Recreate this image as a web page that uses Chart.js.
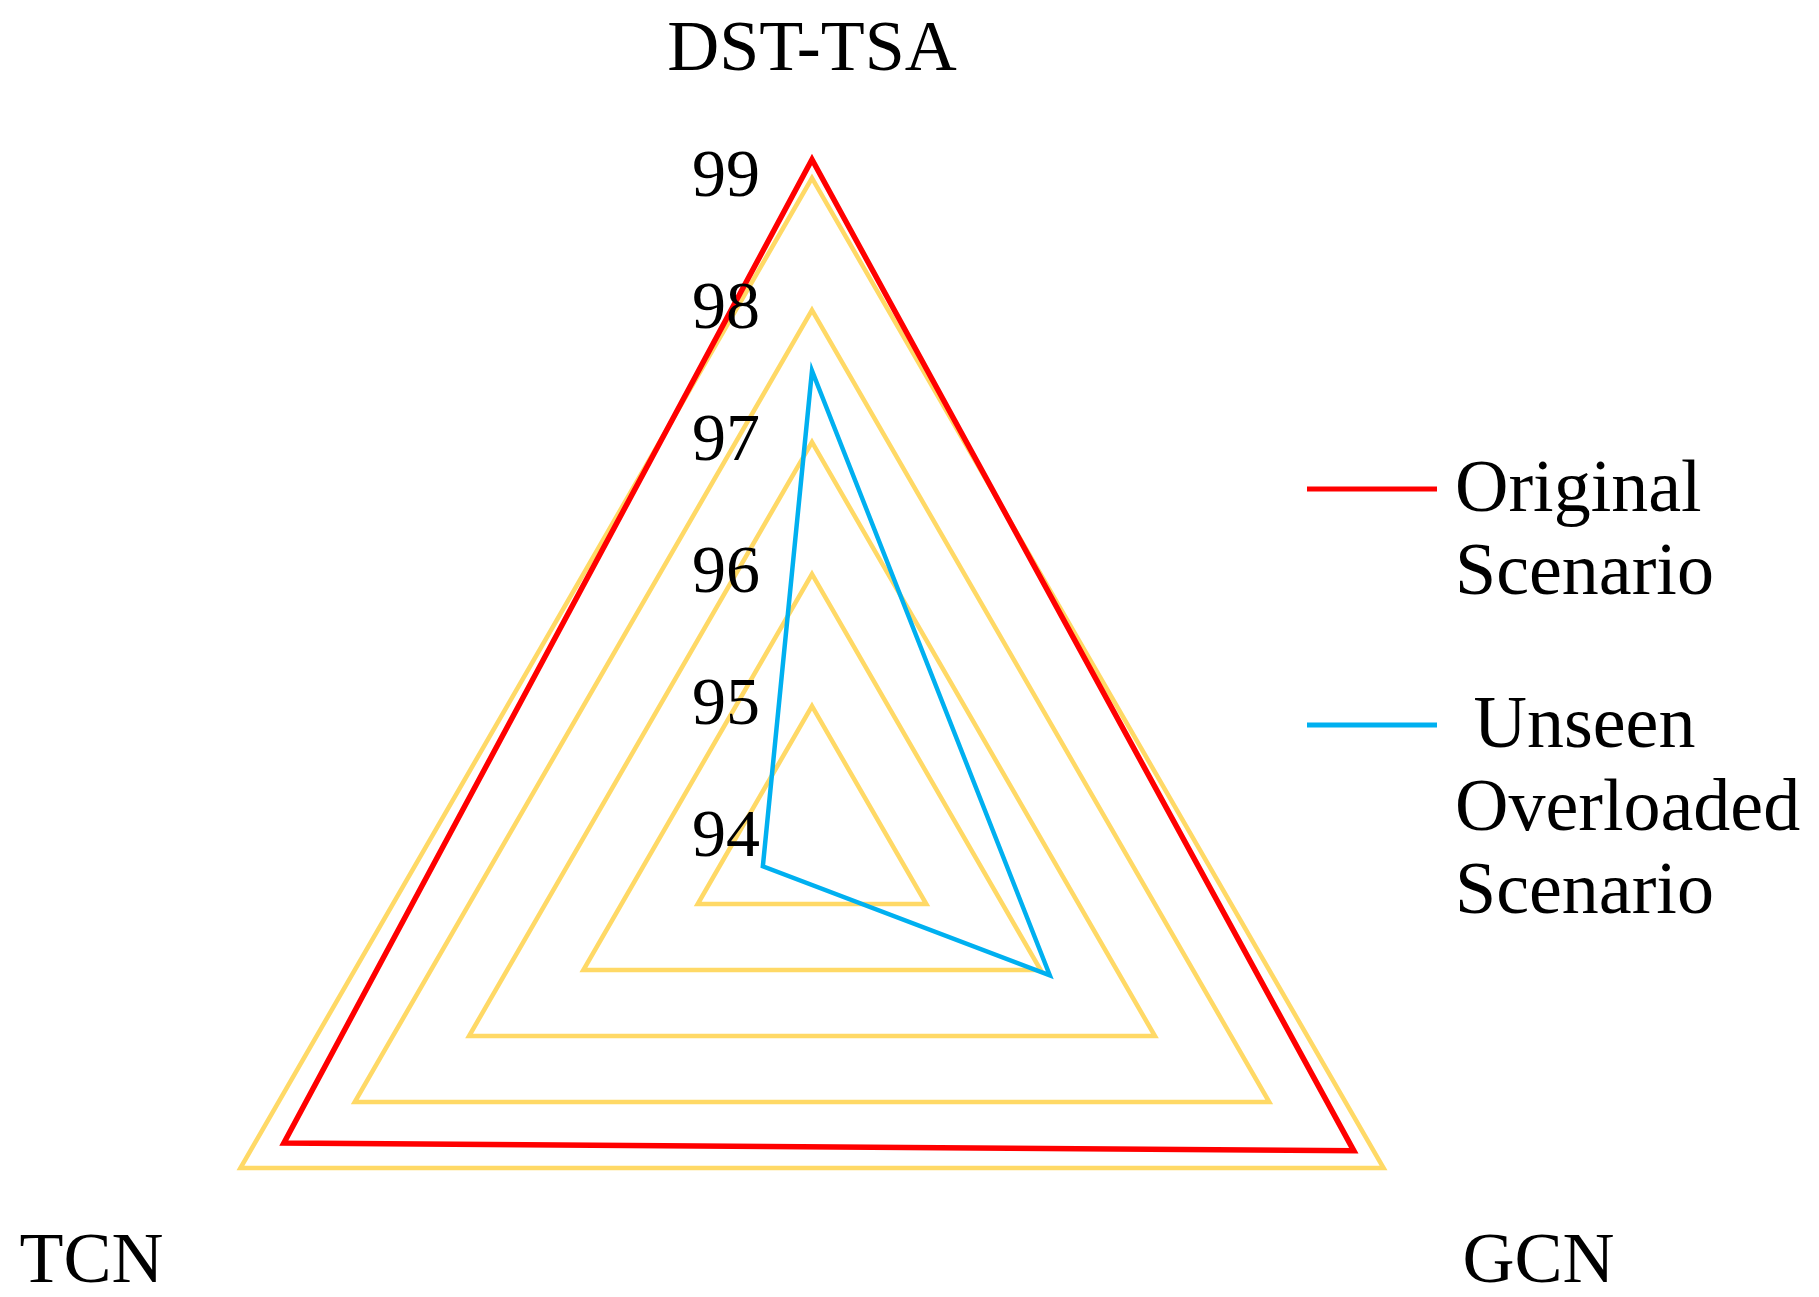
<!DOCTYPE html>
<html>
<head>
<meta charset="utf-8">
<title>Radar</title>
<script src="https://cdn.jsdelivr.net/npm/chart.js@4/dist/chart.umd.min.js"></script>
<style>
  html, body { margin: 0; padding: 0; background: #fff; }
  #wrap { width: 1819px; height: 1297px; position: relative; }
</style>
</head>
<body>
<div id="wrap"><canvas id="myChart"></canvas></div>
<script>
'use strict';

const axisLabels = ['DST-TSA', 'GCN', 'TCN'];
const originalScores = [99.14, 98.74, 98.62];
const unseenScores = [97.54, 96.08, 94.43];
const seriesNames = [['Original', 'Scenario'], [' Unseen', 'Overloaded', 'Scenario']];
const tickMin = 94;
const tickMax = 99;

const serif = '"Liberation Serif", "Times New Roman", serif';

// tick labels sit left of the vertical axis, point labels far out from the corners,
// legend on the right: all drawn by hand after the chart
const extraText = {
  id: 'extraText',
  afterDraw(chart) {
    const ctx = chart.ctx;
    const r = chart.scales.r;
    ctx.save();
    ctx.fillStyle = '#000';

    // ticks
    ctx.font = '68px ' + serif;
    ctx.textAlign = 'right';
    ctx.textBaseline = 'middle';
    r.ticks.forEach((t) => {
      const d = r.getDistanceFromCenterForValue(t.value);
      ctx.fillText(String(t.value), r.xCenter - 52, r.yCenter - d);
    });

    // point labels
    ctx.font = '72px ' + serif;
    ctx.textBaseline = 'alphabetic';
    axisLabels.forEach((lbl, i) => {
      const p = r.getPointPosition(i, r.drawingArea);
      if (i === 0) {
        ctx.textAlign = 'center';
        ctx.fillText(lbl, p.x, p.y - 108);
      } else if (p.x > r.xCenter) {
        ctx.textAlign = 'left';
        ctx.fillText(lbl, p.x + 79, p.y + 114);
      } else {
        ctx.textAlign = 'right';
        ctx.fillText(lbl, p.x - 77, p.y + 114);
      }
    });

    // legend
    ctx.font = '74px ' + serif;
    ctx.textAlign = 'left';
    let y = 489;
    chart.data.datasets.forEach((ds, i) => {
      ctx.strokeStyle = ds.borderColor;
      ctx.lineWidth = 5;
      ctx.beginPath();
      ctx.moveTo(1307, y);
      ctx.lineTo(1437, y);
      ctx.stroke();
      seriesNames[i].forEach((line, k) => {
        ctx.fillText(line, 1455, y + 22 + k * 83);
      });
      y += seriesNames[i].length * 83 + 70;
    });
    ctx.restore();
  },
};

new Chart(document.getElementById('myChart'), {
  type: 'radar',
  data: {
    labels: axisLabels,
    datasets: [
      {
        label: seriesNames[0].join(' '),
        data: originalScores,
        borderColor: '#FF0000',
        borderWidth: 5.5,
        borderJoinStyle: 'miter',
        fill: false,
        pointRadius: 0,
        clip: false,
      },
      {
        label: seriesNames[1].join(' ').trim(),
        data: unseenScores,
        borderColor: '#00B0F0',
        borderWidth: 4.5,
        borderJoinStyle: 'miter',
        fill: false,
        pointRadius: 0,
        clip: false,
      },
    ],
  },
  options: {
    responsive: true,
    maintainAspectRatio: false,
    animation: false,
    layout: {
      padding: { top: 178, left: 152, right: 347, bottom: 0 },
    },
    plugins: {
      legend: { display: false },
      tooltip: { enabled: false },
    },
    scales: {
      r: {
        min: tickMin,
        max: tickMax,
        ticks: { stepSize: 1, display: false },
        grid: { color: '#FFD966', lineWidth: 4.5 },
        angleLines: { display: false },
        pointLabels: { display: false },
        // the triangle only uses the top of its circle, so size it by width
        afterFit(scale) {
          scale.drawingArea = Math.floor(scale.width / 2);
          scale.yCenter = scale.top + scale.drawingArea;
        },
      },
    },
  },
  plugins: [extraText],
});
</script>
</body>
</html>
